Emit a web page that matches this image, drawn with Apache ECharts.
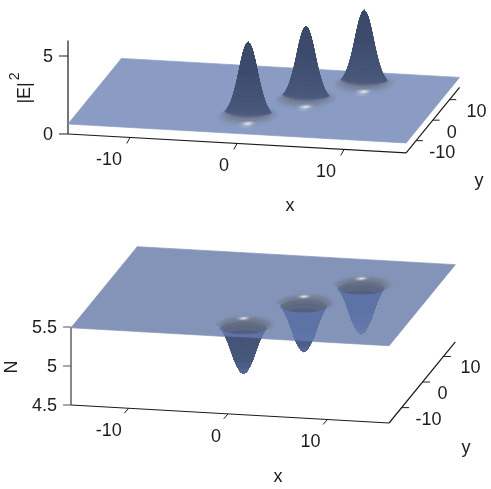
<!DOCTYPE html>
<html><head><meta charset="utf-8">
<style>html,body{margin:0;padding:0;background:#fff}#c{width:491px;height:489px}</style>
<script src="https://cdn.jsdelivr.net/npm/echarts@6/dist/echarts.min.js"></script>
</head><body><div id="c"></div>
<script>
// ---- values ----
const xTicks = [-10, 0, 10];
const yTicks = [-10, 0, 10];
const zTicksE = [0, 5];
const zLabelsE = ['0', '5'];
const zTicksN = [4.5, 5, 5.5];
const zLabelsN = ['4.5', '5', '5.5'];
const peakX = [-0.3, 3.65, 7.75];
const peakY = [-7.4, 1.9, 10.5];
const peakHeight = [4.7, 4.65, 4.7];
const dipX = [0.67, 4.77, 8.87];
const dipY = [-11.8, -2.4, 5.5];
const dipDepth = [0.6, 0.6, 0.6];
const sheetE = 0.64;
const sheetN = 5.49;
// radial cross-section of one peak / dip
const peakRx = [0, .15, .3, .45, .6, .75, .9, 1.05, 1.2, 1.35, 1.5, 1.65, 1.8, 1.95, 2.1, 2.2, 2.3, 2.4, 2.5, 2.6, 2.7, 2.8];
const peakRy = [0, .15, .3, .45, .6, .75, .9, 1.05, 1.2, 1.35, 1.5, 1.65, 1.8, 1.95, 2.1, 2.5, 2.9, 3.3, 3.7, 4.2, 4.8, 5.6];
const peakFrac = [1, .98, .93, .86, .77, .67, .56, .46, .37, .29, .22, .16, .115, .08, .05, .035, .025, .015, .01, .005, .002, 0];
const peakShade = [1, 1, 1, 1, 1, 1, 1, 1, 1, 1, 1, 1, 1, 1, .92, .6, .5, .41, .31, .2, .1, 0];
const dipRx = [0, .3, .6, .9, 1.2, 1.5, 1.8, 2.05, 2.28, 2.38, 2.48, 2.58, 2.68, 2.78, 2.9, 3.05];
const dipRy = [0, .3, .6, .9, 1.2, 1.5, 1.8, 2.05, 2.28, 2.5, 2.75, 3, 3.3, 3.6, 4, 4.5];
const dipFrac = [1, .97, .86, .72, .53, .35, .2, .1, .05, .035, .025, .015, .01, .005, .002, 0];
const dipShade = [1, 1, 1, 1, 1, .95, .82, .74, .68, .6, .52, .45, .35, .22, .1, 0];

// ---- view of each box ----
const top3d = {ox: 68, oy: 134, x0: -15.8, x1: 15.8, y0: -16, y1: 16, z0: 0, ax: [10.7, .6], ay: [1.67, -2.05], cz: 15.6, zTop: 6};
const bot3d = {ox: 71, oy: 405, x0: -15.8, x1: 16.2, y0: -16, y1: 15.7, z0: 4.5, ax: [9.94, .5625], ay: [2.09, -2.56], cz: 78, zTop: 5.5};

const FONT = '18px "Liberation Sans", Arial, sans-serif';
const INK = '#1c1c1c';

function hex(c) { return [1, 3, 5].map(i => parseInt(c.substr(i, 2), 16)); }
function mix(a, b, t) { return a.map((v, i) => v + (b[i] - v) * t); }
function rgb(c) { return 'rgb(' + c.map(v => Math.round(v)).join(',') + ')'; }
function project(P, x, y, z) {
  const u = x - P.x0, v = y - P.y0, w = z - P.z0;
  return [P.ox + u * P.ax[0] + v * P.ay[0], P.oy + u * P.ax[1] + v * P.ay[1] - w * P.cz];
}
function farness(P) {
  const a = P.ax, b = P.ay, c = -P.cz;
  return [b[0] * c, -a[0] * c, a[0] * b[1] - b[0] * a[1]];
}

const SECT = 90;
function buildQuads(P, cxs, cys, amps, base, sign, rx, ry, frac, shade, keep) {
  const d = farness(P), quads = [];
  cxs.forEach((cx, k) => {
    const cy = cys[k], amp = amps[k];
    for (let i = 0; i < rx.length - 1; i++) for (let j = 0; j < SECT; j++) {
      const t0 = j / SECT * 2 * Math.PI, t1 = (j + 1) / SECT * 2 * Math.PI;
      if (keep && !keep(i, (t0 + t1) / 2)) continue;
      const pt = (r, t) => [cx + rx[r] * Math.cos(t), cy + ry[r] * Math.sin(t), base + sign * amp * frac[r]];
      const v = [pt(i, t0), pt(i, t1), pt(i + 1, t1), pt(i + 1, t0)];
      const m = [0, 1, 2].map(q => (v[0][q] + v[1][q] + v[2][q] + v[3][q]) / 4);
      quads.push({v, f: d[0] * m[0] + d[1] * m[1] + d[2] * m[2],
        s: (shade[i] + shade[i + 1]) / 2, fr: (frac[i] + frac[i + 1]) / 2,
        tm: (t0 + t1) / 2, ring: i});
    }
  });
  quads.sort((a, b) => b.f - a.f);
  return quads;
}

const gE = hex('#8a9cc3'), grayE = hex('#737c92'), darkLo = hex('#4b5a7e'), darkHi = hex('#3d4b6c');
const gN = hex('#8494b8'), grayN = hex('#6e7688'), blue = hex('#5f74a8'), darkN = hex('#465578');
const blueTip = hex('#6b80b2'), darkTip = hex('#5a6e9e');

function ramp(g, gr, dk, s) { return s < .6 ? mix(g, gr, s / .6) : mix(gr, dk, (s - .6) / .4); }
function spot(tm, centre, w) {
  let dt = Math.abs(tm - centre); if (dt > Math.PI) dt = 2 * Math.PI - dt;
  return Math.exp(-dt * dt / (w * w));
}
function peakColor(q) {
  const dk = mix(darkLo, darkHi, Math.min(1, q.fr * 1.5));
  const facing = .5 + .5 * Math.max(0, -Math.sin(q.tm));
  let c = ramp(gE, grayE, dk, q.s >= .9 ? q.s : q.s * facing);
  const ringW = Math.exp(-Math.pow((q.ring - 18.5) / 1.3, 2));
  c = mix(c, [255, 255, 255], .8 * ringW * spot(q.tm, 1.5 * Math.PI + .22, .17));
  return rgb(c);
}
function dipColor(q, inside) {
  const back = Math.sin(q.tm) > 0;
  if (!back) {
    const tip = Math.pow(q.fr, 4);
    return rgb(inside ? mix(blue, blueTip, tip) : mix(darkN, darkTip, tip));
  }
  const facing = q.ring >= 8 ? .5 + .5 * Math.sin(q.tm) : 1;
  let c = ramp(gN, grayN, darkN, q.s * facing);
  const ringW = Math.exp(-Math.pow((q.ring - 11) / 1.4, 2));
  c = mix(c, [255, 255, 255], .8 * ringW * spot(q.tm, .5 * Math.PI + .25, .17));
  return rgb(c);
}

const quadsE = buildQuads(top3d, peakX, peakY, peakHeight, sheetE, 1, peakRx, peakRy, peakFrac, peakShade);
const quadsN = buildQuads(bot3d, dipX, dipY, dipDepth, sheetN, -1, dipRx, dipRy, dipFrac, dipShade,
  (ring, t) => !(ring >= 8 && Math.sin(t) < 0));

function clipHalf(pts, a, b, keepAbove) {
  const side = p => ((b[0] - a[0]) * (p[1] - a[1]) - (b[1] - a[1]) * (p[0] - a[0])) * (keepAbove ? -1 : 1);
  const out = [];
  for (let i = 0; i < pts.length; i++) {
    const p = pts[i], n = pts[(i + 1) % pts.length], sp = side(p), sn = side(n);
    if (sp >= 0) out.push(p);
    if ((sp >= 0) !== (sn >= 0)) { const t = sp / (sp - sn); out.push([p[0] + (n[0] - p[0]) * t, p[1] + (n[1] - p[1]) * t]); }
  }
  return out;
}
function poly(pts, fill) {
  return {type: 'polygon', shape: {points: pts}, silent: true,
    style: {fill, stroke: fill, lineWidth: .7}};
}

function surfaceSeries(P, sheet, color, quads, colorFn, split) {
  return {
    type: 'custom', coordinateSystem: 'cartesian2d', clip: false, silent: true,
    animation: false, progressive: 0, z: 3,
    data: [[0]].concat(quads.map(q => [q.f])),
    renderItem(params, api) {
      const S = (x, y, z) => { const s = project(P, x, y, z); return api.coord([s[0], s[1]]); };
      if (params.dataIndex === 0) {
        return poly([S(P.x0, P.y0, sheet), S(P.x1, P.y0, sheet), S(P.x1, P.y1, sheet), S(P.x0, P.y1, sheet)], color);
      }
      const q = quads[params.dataIndex - 1];
      const pts = q.v.map(v => S(v[0], v[1], v[2]));
      if (!split) return poly(pts, colorFn(q));
      const a = S(P.x0, P.y0, sheet), b = S(P.x1, P.y0, sheet);
      const inn = clipHalf(pts, a, b, true), outer = clipHalf(pts, a, b, false);
      const kids = [];
      if (inn.length > 2) kids.push(poly(inn, colorFn(q, true)));
      if (outer.length > 2) kids.push(poly(outer, colorFn(q, false)));
      return {type: 'group', children: kids};
    }
  };
}

function line(p, q, stroke, w) {
  return {type: 'line', silent: true, shape: {x1: p[0], y1: p[1], x2: q[0], y2: q[1]}, style: {stroke, lineWidth: w || 1.2}};
}
function text(str, p, align, extra) {
  return Object.assign({type: 'text', silent: true, x: p[0], y: p[1],
    style: {text: str, x: 0, y: 0, font: FONT, fill: INK, align: align || 'center', verticalAlign: 'middle'}}, extra || {});
}

function axesSeries(P, opt) {
  return {
    type: 'custom', coordinateSystem: 'cartesian2d', clip: false, silent: true, animation: false, z: 2,
    data: [[0]],
    renderItem(params, api) {
      const S = (x, y, z) => { const s = project(P, x, y, z); return api.coord([s[0], s[1]]); };
      const off = (p, d) => [p[0] + d[0], p[1] + d[1]];
      const k = [];
      const c0 = S(P.x0, P.y0, P.z0), c1 = S(P.x1, P.y0, P.z0), c2 = S(P.x1, P.y1, P.z0), zt = S(P.x0, P.y0, P.zTop);
      k.push(line(c0, c1, INK), line(c1, c2, INK), line(c0, zt, opt.zColor, opt.zWidth));
      xTicks.forEach(v => {
        const p = S(v, P.y0, P.z0);
        k.push(line(p, off(p, opt.xTick), INK, 1));
        k.push(text(String(v), off(p, opt.xLabel), 'right'));
      });
      yTicks.forEach((v, i) => {
        const p = S(P.x1, v, P.z0);
        k.push(line(p, off(p, opt.yTick), INK, 1));
        k.push(text(String(v), off(p, [opt.yLabelDx[i], opt.yLabelDy]), 'left'));
      });
      opt.zTicks.forEach((v, i) => {
        const p = S(P.x0, P.y0, v);
        k.push(line(p, off(p, opt.zTick), opt.zColor, 1));
        k.push(text(opt.zLabels[i], off(p, opt.zLabel), 'right'));
      });
      opt.titles.forEach(t => k.push(t(api)));
      return {type: 'group', children: k};
    }
  };
}

const titleAt = (str, x, y, rot, rich) => api => {
  const el = text(str, api.coord([x, y]), 'center', rot ? {rotation: rot} : {});
  if (rich) el.style.rich = rich;
  return el;
};

const topOpt = {
  zColor: INK, zWidth: 1.2,
  xTick: [-3.3, 6], yTick: [6.7, 0], zTick: [-9, 0],
  xLabel: [-8, 23], yLabelDx: [13, 14, 17], yLabelDy: 12.5, zLabel: [-15, 1],
  zTicks: zTicksE, zLabels: zLabelsE,
  titles: [
    titleAt('x', 290, 206),
    titleAt('y', 479, 181),
    titleAt('{e||E|}{s|2}', 25, 88, Math.PI / 2, {
      e: {font: FONT, fill: INK, lineHeight: 33},
      s: {font: '14px "Liberation Sans", Arial, sans-serif', fill: INK, lineHeight: 14, verticalAlign: 'top', padding: [0, 0, 0, 2]}
    })
  ]
};
const botOpt = {
  zColor: '#555', zWidth: 1.4,
  xTick: [-4.3, 5], yTick: [7.5, 0], zTick: [-8, 0],
  xLabel: [-7, 23], yLabelDx: [14, 15, 17], yLabelDy: 12, zLabel: [-14, 1],
  zTicks: zTicksN, zLabels: zLabelsN,
  titles: [
    titleAt('x', 278, 477),
    titleAt('y', 466, 448),
    titleAt('N', 12, 367, Math.PI / 2)
  ]
};

const chart = echarts.init(document.getElementById('c'), null, {renderer: 'canvas'});
chart.setOption({
  animation: false,
  backgroundColor: '#fff',
  grid: {left: 0, right: 0, top: 0, bottom: 0},
  xAxis: {type: 'value', min: 0, max: 491, show: false},
  yAxis: {type: 'value', min: 0, max: 489, inverse: true, show: false},
  series: [
    axesSeries(top3d, topOpt),
    axesSeries(bot3d, botOpt),
    surfaceSeries(top3d, sheetE, rgb(gE), quadsE, peakColor, false),
    surfaceSeries(bot3d, sheetN, rgb(gN), quadsN, dipColor, true)
  ]
});
</script></body></html>
